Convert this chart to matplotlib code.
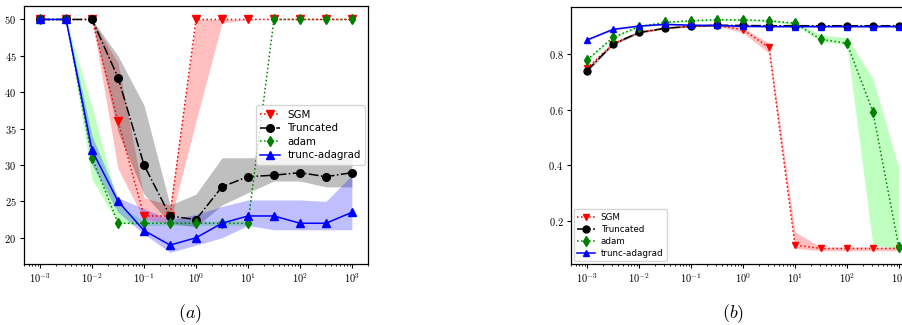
import numpy as np
import matplotlib
matplotlib.use("Agg")
import matplotlib.pyplot as plt
from matplotlib.ticker import FixedLocator, FuncFormatter, LogLocator, NullFormatter

plt.rcParams['mathtext.fontset'] = 'cm'

# step sizes: 10^-3 ... 10^3 in half decades
steps = 10.0 ** np.arange(-3, 3.01, 0.5)

# (a) left panel
sgm_a = [50, 50, 50, 36, 23, 23, 50, 50, 50, 50, 50, 50, 50]
sgm_a_lo = [50, 50, 50, 29.5, 22.5, 22, 36, 49.5, 50, 50, 50, 50, 50]
sgm_a_hi = [50, 50, 50, 44, 25.5, 24.5, 50, 50, 50, 50, 50, 50, 50]

trunc_a = [50, 50, 50, 42, 30, 23, 22.5, 27, 28.4, 28.6, 28.95, 28.4, 28.95]
trunc_a_lo = [50, 50, 50, 34.5, 26, 22, 21.5, 24.5, 26.2, 27.8, 27.8, 27, 27]
trunc_a_hi = [50, 50, 50, 45, 38.2, 24.5, 26, 31, 31, 31, 31, 31, 31]

adam_a = [50, 50, 31, 22, 22, 22, 22, 22, 22, 50, 50, 50, 50]
adam_a_lo = [50, 50, 28, 22, 21.7, 21.7, 21.7, 21.7, 21.7, 50, 50, 50, 50]
adam_a_hi = [50, 50, 38, 24.5, 22.3, 22.3, 22.3, 22.3, 22.3, 50, 50, 50, 50]

ada_a = [50, 50, 32, 25, 21, 19, 20, 22, 23, 23, 22, 22, 23.5]
ada_a_lo = [50, 50, 30, 23.5, 20.5, 18, 19, 20, 21.7, 21.1, 21.1, 21.1, 21.1]
ada_a_hi = [50, 50, 34, 25.5, 24, 22.5, 23.2, 24.3, 25.2, 25.2, 25.2, 25.0, 28.6]

# (b) right panel
sgm_b = [0.75, 0.838, 0.879, 0.894, 0.901, 0.904, 0.889, 0.825, 0.112, 0.10, 0.10, 0.10, 0.10]
sgm_b_lo = [0.745, 0.834, 0.876, 0.892, 0.899, 0.902, 0.878, 0.804, 0.10, 0.092, 0.092, 0.092, 0.092]
sgm_b_hi = [0.755, 0.842, 0.882, 0.896, 0.903, 0.906, 0.896, 0.84, 0.16, 0.105, 0.105, 0.105, 0.105]

trunc_b = [0.741, 0.837, 0.879, 0.894, 0.901, 0.905, 0.904, 0.903, 0.903, 0.903, 0.903, 0.903, 0.903]
trunc_b_lo = [0.736, 0.833, 0.876, 0.892, 0.899, 0.903, 0.902, 0.901, 0.901, 0.901, 0.901, 0.901, 0.901]
trunc_b_hi = [0.746, 0.841, 0.882, 0.896, 0.903, 0.907, 0.906, 0.905, 0.905, 0.905, 0.905, 0.905, 0.905]

adam_b = [0.78, 0.861, 0.90, 0.915, 0.921, 0.925, 0.924, 0.921, 0.912, 0.854, 0.84, 0.593, 0.104]
adam_b_lo = [0.775, 0.857, 0.897, 0.912, 0.918, 0.922, 0.921, 0.918, 0.905, 0.845, 0.835, 0.112, 0.10]
adam_b_hi = [0.785, 0.865, 0.903, 0.918, 0.924, 0.928, 0.927, 0.924, 0.916, 0.87, 0.86, 0.713, 0.389]

ada_b = [0.852, 0.89, 0.902, 0.908, 0.905, 0.904, 0.901, 0.90, 0.90, 0.90, 0.90, 0.90, 0.90]
ada_b_lo = [0.849, 0.887, 0.899, 0.905, 0.902, 0.901, 0.898, 0.897, 0.897, 0.897, 0.897, 0.897, 0.897]
ada_b_hi = [0.855, 0.893, 0.905, 0.911, 0.908, 0.907, 0.904, 0.903, 0.903, 0.903, 0.903, 0.903, 0.903]

labels = ["SGM", "Truncated", "adam", "trunc-adagrad"]


def draw(ax, series, ylim, yticks, yfmt, ms, legend_loc, legend_fs):
    fills = [("red", 0.25), ("black", 0.25), ("lime", 0.25), ("blue", 0.25)]
    styles = [("r", ":", "v"), ("k", "-.", "o"), ("g", ":", "d"), ("b", "-", "^")]
    for (mid, lo, hi), (fc, al) in zip(series, fills):
        ax.fill_between(steps, lo, hi, color=fc, alpha=al, linewidth=0)
    for (mid, lo, hi), (c, ls, m), lab in zip(series, styles, labels):
        ax.plot(steps, mid, color=c, linestyle=ls, marker=m, markersize=ms,
                linewidth=1.1, label=lab)
    ax.set_xscale("log")
    ax.set_xlim(10 ** -3.31, 10 ** 3.31)
    ax.set_ylim(*ylim)
    ax.xaxis.set_major_locator(FixedLocator([10.0 ** k for k in range(-3, 4)]))
    ax.xaxis.set_minor_locator(LogLocator(base=10, subs=np.arange(2, 10), numticks=20))
    ax.xaxis.set_minor_formatter(NullFormatter())
    ax.xaxis.set_major_formatter(FuncFormatter(lambda v, p: r"$10^{%d}$" % round(np.log10(v))))
    ax.yaxis.set_major_locator(FixedLocator(yticks))
    ax.yaxis.set_major_formatter(FuncFormatter(lambda v, p: "$" + (yfmt % v) + "$"))
    ax.tick_params(axis="both", which="major", labelsize=7.5, length=3, width=0.8, pad=2.5)
    ax.tick_params(axis="both", which="minor", length=1.6, width=0.6)
    for s in ax.spines.values():
        s.set_linewidth(0.9)
    ax.legend(loc=legend_loc, fontsize=legend_fs, handlelength=2.0, borderpad=0.4,
              labelspacing=0.35, handletextpad=0.7, borderaxespad=0.3)


fig = plt.figure(figsize=(9.02, 3.25), dpi=100)
ax1 = fig.add_axes([24 / 902, 1 - 264 / 325, 344 / 902, 258 / 325])
ax2 = fig.add_axes([571 / 902, 1 - 264 / 325, 344 / 902, 256.7 / 325])

draw(ax1,
     [(sgm_a, sgm_a_lo, sgm_a_hi), (trunc_a, trunc_a_lo, trunc_a_hi),
      (adam_a, adam_a_lo, adam_a_hi), (ada_a, ada_a_lo, ada_a_hi)],
     (16.4, 51.85), [20, 25, 30, 35, 40, 45, 50], "%d", 5.5, "center right", 7.4)
draw(ax2,
     [(sgm_b, sgm_b_lo, sgm_b_hi), (trunc_b, trunc_b_lo, trunc_b_hi),
      (adam_b, adam_b_lo, adam_b_hi), (ada_b, ada_b_lo, ada_b_hi)],
     (0.044, 0.9695), [0.2, 0.4, 0.6, 0.8], "%.1f", 5, "lower left", 6.3)

fig.text(190 / 902, 1 - 314 / 325, r"$(a)$", fontsize=13, ha="center", va="center")
fig.text(733 / 902, 1 - 314 / 325, r"$(b)$", fontsize=13, ha="center", va="center")

fig.savefig("out.png", dpi=100)
